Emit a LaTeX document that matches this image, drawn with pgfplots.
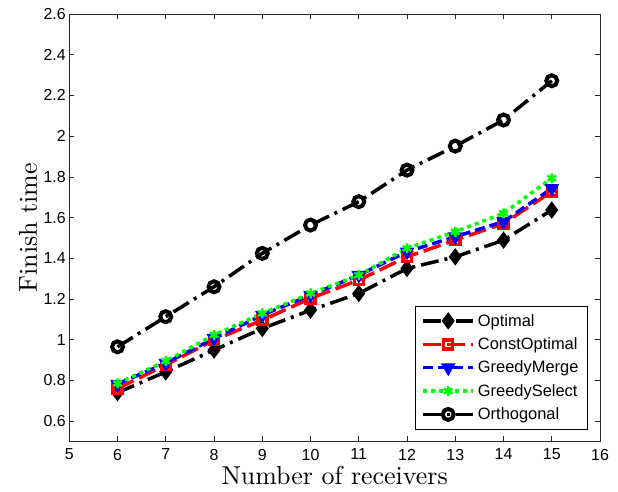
\documentclass[border=0pt]{standalone}
\usepackage{fontspec}
\usepackage{pgfplots}
\pgfplotsset{compat=1.18}
\newfontfamily\arial{Liberation Sans}
\newfontfamily\lmten{lmroman10-regular}[Extension=.otf]

\begin{document}
\begin{tikzpicture}
\begin{axis}[
  scale only axis,
  width=531bp, height=427.7bp,
  xmin=5, xmax=16, ymin=0.5, ymax=2.6,
  xtick={5,...,16},
  ytick={0.6,0.8,1,1.2,1.4,1.6,1.8,2,2.2,2.4,2.6},
  tick align=inside,
  major tick length=5bp,
  axis line style={line width=0.8bp, black!85},
  every tick/.style={black!85, line width=0.6bp},
  tick label style={font=\arial\fontsize{16}{19}\selectfont},
  xticklabel style={yshift=-4bp},
  /pgf/number format/assume math mode=true,
  xlabel={Number of receivers},
  ylabel={Finish time},
  label style={font=\lmten\fontsize{26}{30}\selectfont, inner sep=1bp},
  xlabel style={yshift=-1bp},
  ylabel style={yshift=2bp},
  legend style={at={(0.977,0.028)}, anchor=south east,
    font=\arial\fontsize{16.5}{19}\selectfont,
    draw=black, line width=0.8bp, row sep=6bp,
    inner xsep=6bp, inner ysep=6bp,
    nodes={inner xsep=3bp}},
  legend cell align=left,
  legend image code/.code={%
    \draw[mark repeat=2, mark phase=2, #1]
      plot coordinates {(0bp,0bp) (25bp,0bp) (50bp,0bp)};},
  every axis plot/.append style={line width=3.5bp},
]

% Optimal
\addplot[black, dash pattern=on 18bp off 6bp on 3bp off 6bp,
  mark=diamond*, mark size=7.5bp, mark options={solid, line width=1.5bp}] coordinates {
  (6,0.74) (7,0.842) (8,0.949) (9,1.055) (10,1.145)
  (11,1.227) (12,1.35) (13,1.407) (14,1.489) (15,1.637)
};

% ConstOptimal
\addplot[red, dash pattern=on 18bp off 6bp,
  mark=square, mark size=4.5bp, mark options={solid, line width=3.5bp}] coordinates {
  (6,0.76) (7,0.876) (8,0.998) (9,1.096) (10,1.203)
  (11,1.293) (12,1.407) (13,1.489) (14,1.571) (15,1.727)
};

% GreedyMerge
\addplot[blue, dash pattern=on 10bp off 5bp,
  mark=triangle*, mark size=7.5bp, mark options={solid, rotate=180, line width=1bp}] coordinates {
  (6,0.782) (7,0.885) (8,1.006) (9,1.121) (10,1.219)
  (11,1.317) (12,1.432) (13,1.506) (14,1.58) (15,1.743)
};

% GreedySelect
\addplot[green, dash pattern=on 4bp off 4bp,
  mark=asterisk, mark size=5bp, mark options={solid, line width=2.5bp}] coordinates {
  (6,0.785) (7,0.895) (8,1.023) (9,1.129) (10,1.227)
  (11,1.317) (12,1.449) (13,1.53) (14,1.621) (15,1.793)
};

% Orthogonal
\addplot[black, dash pattern=on 18bp off 6bp on 3bp off 6bp,
  mark=o, mark size=5.5bp, mark options={solid, line width=4bp, fill=white}] coordinates {
  (6,0.965) (7,1.113) (8,1.26) (9,1.424) (10,1.563)
  (11,1.678) (12,1.833) (13,1.951) (14,2.079) (15,2.272)
};

\legend{Optimal, ConstOptimal, GreedyMerge, GreedySelect, Orthogonal}
\end{axis}
\path ([xshift=-69.3bp,yshift=-50.3bp]current axis.south west)
  rectangle ([xshift=18bp,yshift=14bp]current axis.north east);
\end{tikzpicture}
\end{document}
